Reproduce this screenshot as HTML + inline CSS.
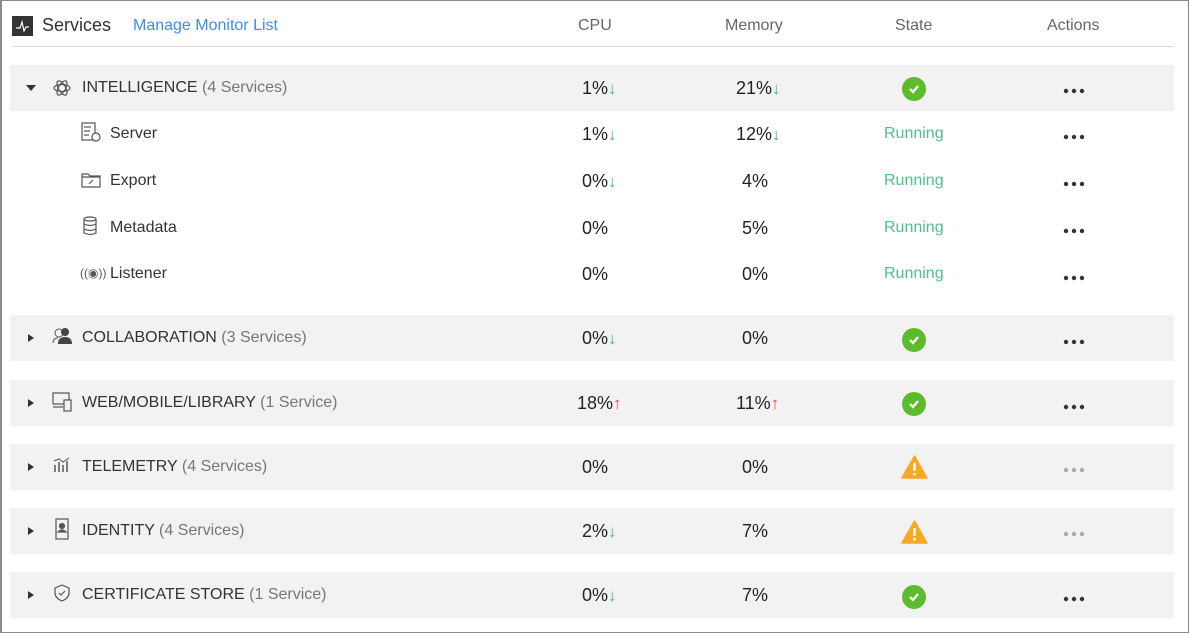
<!DOCTYPE html>
<html><head><meta charset="utf-8"><style>
*{margin:0;padding:0;box-sizing:border-box}
body{width:1189px;height:633px;background:#fff;font-family:"Liberation Sans",Arial,sans-serif;position:relative;overflow:hidden;color:#333}
.frame{position:absolute;left:0;top:0;width:1189px;height:633px;border:1px solid #8a8a8a;border-left:2px solid #8a8a8a}
.a{position:absolute;white-space:nowrap}
.bg{position:absolute;left:10px;width:1164px;height:46px;background:#f2f2f2}
.hd{font-size:16px;color:#666;top:17px}
.t{font-size:16px;line-height:20px}
.v{font-size:18px;line-height:20px;color:#222}
.sub{color:#777}
.dn{color:#3cb878;font-size:17px;font-weight:bold}
.up{color:#ef4a3c;font-size:17px;font-weight:bold}
.run{color:#4fc08d;font-size:16px;line-height:20px}
.ok{width:24px;height:24px;border-radius:50%;background:#5dbb2e}
.caret{width:0;height:0;border-left:5px solid transparent;border-right:5px solid transparent;border-top:6px solid #333}
.caretr{width:0;height:0;border-top:4px solid transparent;border-bottom:4px solid transparent;border-left:6px solid #333}
.dots{width:22px;height:6px}
</style></head><body>
<div class="frame"></div>
<div class="a" style="left:12px;top:16px;width:21px;height:20px;background:#333"></div>
<svg class="a" style="left:12px;top:16px" width="21" height="20"><polyline points="4,12 8,12 10,6 12,15 14,11 17,11" fill="none" stroke="#fff" stroke-width="1.2"/></svg>
<div class="a" style="left:42px;top:15px;font-size:18px;color:#333">Services</div>
<div class="a" style="left:133px;top:17px;font-size:16px;color:#3d8ee8">Manage Monitor List</div>
<div class="a hd" style="left:578px">CPU</div>
<div class="a hd" style="left:725px">Memory</div>
<div class="a hd" style="left:895px">State</div>
<div class="a hd" style="left:1047px">Actions</div>
<div class="a" style="left:12px;top:46px;width:1162px;height:1px;background:#ddd"></div>

<div class="bg" style="top:65px"></div>
<div class="bg" style="top:315px"></div>
<div class="bg" style="top:380px"></div>
<div class="bg" style="top:444px"></div>
<div class="bg" style="top:508px"></div>
<div class="bg" style="top:572px"></div>

<!-- INTELLIGENCE -->
<div class="a caret" style="left:26px;top:85px"></div>
<svg class="a" style="left:52px;top:78px" width="20" height="20" fill="none" stroke="#555" stroke-width="1.2"><ellipse cx="10" cy="10" rx="8" ry="3.5"/><ellipse cx="10" cy="10" rx="8" ry="3.5" transform="rotate(60 10 10)"/><ellipse cx="10" cy="10" rx="8" ry="3.5" transform="rotate(120 10 10)"/></svg>
<div class="a t" style="left:82px;top:78px">INTELLIGENCE <span class="sub">(4 Services)</span></div>
<div class="a v" style="left:582px;top:78px">1%<span class="dn">&#8595;</span></div>
<div class="a v" style="left:736px;top:78px">21%<span class="dn">&#8595;</span></div>
<div class="a ok" style="left:902px;top:77px"></div>
<svg class="a" style="left:902px;top:77px" width="24" height="24"><polyline points="8,12 11,15 16,9" fill="none" stroke="#fff" stroke-width="2.2"/></svg>
<svg class="a dots" style="left:1063px;top:88px"><circle cx="3" cy="3" r="2.2" fill="#333"/><circle cx="11" cy="3" r="2.2" fill="#333"/><circle cx="19" cy="3" r="2.2" fill="#333"/></svg>

<svg class="a" style="left:81px;top:122px" width="22" height="22" fill="none" stroke="#555" stroke-width="1.2"><rect x="1" y="1" width="13" height="17"/><line x1="3" y1="5" x2="10" y2="5"/><line x1="3" y1="9" x2="9" y2="9"/><line x1="3" y1="13" x2="8" y2="13"/><circle cx="15" cy="15" r="4" fill="#fff"/></svg>
<div class="a t" style="left:110px;top:124px">Server</div>
<div class="a v" style="left:582px;top:124px">1%<span class="dn">&#8595;</span></div>
<div class="a v" style="left:736px;top:124px">12%<span class="dn">&#8595;</span></div>
<div class="a run" style="left:884px;top:124px">Running</div>
<svg class="a dots" style="left:1063px;top:134px"><circle cx="3" cy="3" r="2.2" fill="#333"/><circle cx="11" cy="3" r="2.2" fill="#333"/><circle cx="19" cy="3" r="2.2" fill="#333"/></svg>

<svg class="a" style="left:81px;top:171px" width="20" height="18" fill="none" stroke="#555" stroke-width="1.2"><path d="M1,3 H7 L9,5 H19 V16 H1 Z"/><line x1="1" y1="6" x2="19" y2="6"/><line x1="8" y1="13" x2="12" y2="9"/></svg>
<div class="a t" style="left:110px;top:171px">Export</div>
<div class="a v" style="left:582px;top:171px">0%<span class="dn">&#8595;</span></div>
<div class="a v" style="left:742px;top:171px">4%</div>
<div class="a run" style="left:884px;top:171px">Running</div>
<svg class="a dots" style="left:1063px;top:181px"><circle cx="3" cy="3" r="2.2" fill="#333"/><circle cx="11" cy="3" r="2.2" fill="#333"/><circle cx="19" cy="3" r="2.2" fill="#333"/></svg>

<svg class="a" style="left:82px;top:216px" width="16" height="20" fill="none" stroke="#555" stroke-width="1.2"><ellipse cx="8" cy="3" rx="6" ry="2"/><path d="M2,3 V17 Q8,20 14,17 V3"/><path d="M2,8 Q8,11 14,8"/><path d="M2,13 Q8,16 14,13"/></svg>
<div class="a t" style="left:110px;top:218px">Metadata</div>
<div class="a v" style="left:582px;top:218px">0%</div>
<div class="a v" style="left:742px;top:218px">5%</div>
<div class="a run" style="left:884px;top:218px">Running</div>
<svg class="a dots" style="left:1063px;top:228px"><circle cx="3" cy="3" r="2.2" fill="#333"/><circle cx="11" cy="3" r="2.2" fill="#333"/><circle cx="19" cy="3" r="2.2" fill="#333"/></svg>

<div class="a" style="left:80px;top:266px;font-size:12px;color:#555">((&#9673;))</div>
<div class="a t" style="left:110px;top:264px">Listener</div>
<div class="a v" style="left:582px;top:264px">0%</div>
<div class="a v" style="left:742px;top:264px">0%</div>
<div class="a run" style="left:884px;top:264px">Running</div>
<svg class="a dots" style="left:1063px;top:275px"><circle cx="3" cy="3" r="2.2" fill="#333"/><circle cx="11" cy="3" r="2.2" fill="#333"/><circle cx="19" cy="3" r="2.2" fill="#333"/></svg>

<!-- COLLABORATION -->
<div class="a caretr" style="left:28px;top:334px"></div>
<svg class="a" style="left:52px;top:327px" width="22" height="18"><circle cx="7" cy="6" r="4" fill="none" stroke="#555"/><circle cx="13" cy="5" r="4" fill="#444"/><path d="M6,17 Q6,10 13,10 Q20,10 20,17 Z" fill="#444"/><path d="M1,16 Q1,11 6,11" fill="none" stroke="#555"/></svg>
<div class="a t" style="left:82px;top:328px">COLLABORATION <span class="sub">(3 Services)</span></div>
<div class="a v" style="left:582px;top:328px">0%<span class="dn">&#8595;</span></div>
<div class="a v" style="left:742px;top:328px">0%</div>
<div class="a ok" style="left:902px;top:328px"></div>
<svg class="a" style="left:902px;top:328px" width="24" height="24"><polyline points="8,12 11,15 16,9" fill="none" stroke="#fff" stroke-width="2.2"/></svg>
<svg class="a dots" style="left:1063px;top:339px"><circle cx="3" cy="3" r="2.2" fill="#333"/><circle cx="11" cy="3" r="2.2" fill="#333"/><circle cx="19" cy="3" r="2.2" fill="#333"/></svg>

<!-- WEB -->
<div class="a caretr" style="left:28px;top:399px"></div>
<svg class="a" style="left:52px;top:392px" width="22" height="20" fill="none" stroke="#555" stroke-width="1.2"><rect x="1" y="1" width="16" height="11"/><line x1="1" y1="15" x2="11" y2="15"/><rect x="12" y="8" width="7" height="11" fill="#f2f2f2"/></svg>
<div class="a t" style="left:82px;top:393px">WEB/MOBILE/LIBRARY <span class="sub">(1 Service)</span></div>
<div class="a v" style="left:577px;top:393px">18%<span class="up">&#8593;</span></div>
<div class="a v" style="left:736px;top:393px">11%<span class="up">&#8593;</span></div>
<div class="a ok" style="left:902px;top:392px"></div>
<svg class="a" style="left:902px;top:392px" width="24" height="24"><polyline points="8,12 11,15 16,9" fill="none" stroke="#fff" stroke-width="2.2"/></svg>
<svg class="a dots" style="left:1063px;top:404px"><circle cx="3" cy="3" r="2.2" fill="#333"/><circle cx="11" cy="3" r="2.2" fill="#333"/><circle cx="19" cy="3" r="2.2" fill="#333"/></svg>

<!-- TELEMETRY -->
<div class="a caretr" style="left:28px;top:463px"></div>
<svg class="a" style="left:53px;top:457px" width="18" height="16" stroke="#555" stroke-width="1.5"><line x1="2" y1="15" x2="2" y2="8"/><line x1="6" y1="15" x2="6" y2="5"/><line x1="10" y1="15" x2="10" y2="8"/><line x1="14" y1="15" x2="14" y2="4"/><polyline points="1,4 6,2 10,5 16,1" fill="none" stroke-width="1"/></svg>
<div class="a t" style="left:82px;top:457px">TELEMETRY <span class="sub">(4 Services)</span></div>
<div class="a v" style="left:582px;top:457px">0%</div>
<div class="a v" style="left:742px;top:457px">0%</div>
<svg class="a" style="left:901px;top:455px" width="27" height="24"><path d="M13.5,1 L26,23 H1 Z" fill="#f9a825" stroke="#f9a825" stroke-linejoin="round" stroke-width="1.5"/><rect x="12.3" y="8" width="2.4" height="8" fill="#fff"/><rect x="12.3" y="18" width="2.4" height="2.4" fill="#fff"/></svg>
<svg class="a dots" style="left:1063px;top:467px"><circle cx="3" cy="3" r="2.2" fill="#aaa"/><circle cx="11" cy="3" r="2.2" fill="#aaa"/><circle cx="19" cy="3" r="2.2" fill="#aaa"/></svg>

<!-- IDENTITY -->
<div class="a caretr" style="left:28px;top:527px"></div>
<svg class="a" style="left:55px;top:518px" width="14" height="22" fill="none" stroke="#555" stroke-width="1.2"><rect x="1" y="1" width="12" height="20"/><circle cx="7" cy="8" r="2.5" fill="#555"/><path d="M3,14 Q7,10 11,14 Z" fill="#555"/></svg>
<div class="a t" style="left:82px;top:521px">IDENTITY <span class="sub">(4 Services)</span></div>
<div class="a v" style="left:582px;top:521px">2%<span class="dn">&#8595;</span></div>
<div class="a v" style="left:742px;top:521px">7%</div>
<svg class="a" style="left:901px;top:520px" width="27" height="24"><path d="M13.5,1 L26,23 H1 Z" fill="#f9a825" stroke="#f9a825" stroke-linejoin="round" stroke-width="1.5"/><rect x="12.3" y="8" width="2.4" height="8" fill="#fff"/><rect x="12.3" y="18" width="2.4" height="2.4" fill="#fff"/></svg>
<svg class="a dots" style="left:1063px;top:531px"><circle cx="3" cy="3" r="2.2" fill="#aaa"/><circle cx="11" cy="3" r="2.2" fill="#aaa"/><circle cx="19" cy="3" r="2.2" fill="#aaa"/></svg>

<!-- CERT -->
<div class="a caretr" style="left:28px;top:591px"></div>
<svg class="a" style="left:54px;top:584px" width="16" height="18" fill="none" stroke="#555" stroke-width="1.2"><path d="M8,1 L15,4 V9 Q15,14 8,17 Q1,14 1,9 V4 Z"/><polyline points="5,9 7,11 11,7"/></svg>
<div class="a t" style="left:82px;top:585px">CERTIFICATE STORE <span class="sub">(1 Service)</span></div>
<div class="a v" style="left:582px;top:585px">0%<span class="dn">&#8595;</span></div>
<div class="a v" style="left:742px;top:585px">7%</div>
<div class="a ok" style="left:902px;top:585px"></div>
<svg class="a" style="left:902px;top:585px" width="24" height="24"><polyline points="8,12 11,15 16,9" fill="none" stroke="#fff" stroke-width="2.2"/></svg>
<svg class="a dots" style="left:1063px;top:596px"><circle cx="3" cy="3" r="2.2" fill="#333"/><circle cx="11" cy="3" r="2.2" fill="#333"/><circle cx="19" cy="3" r="2.2" fill="#333"/></svg>
</body></html>
